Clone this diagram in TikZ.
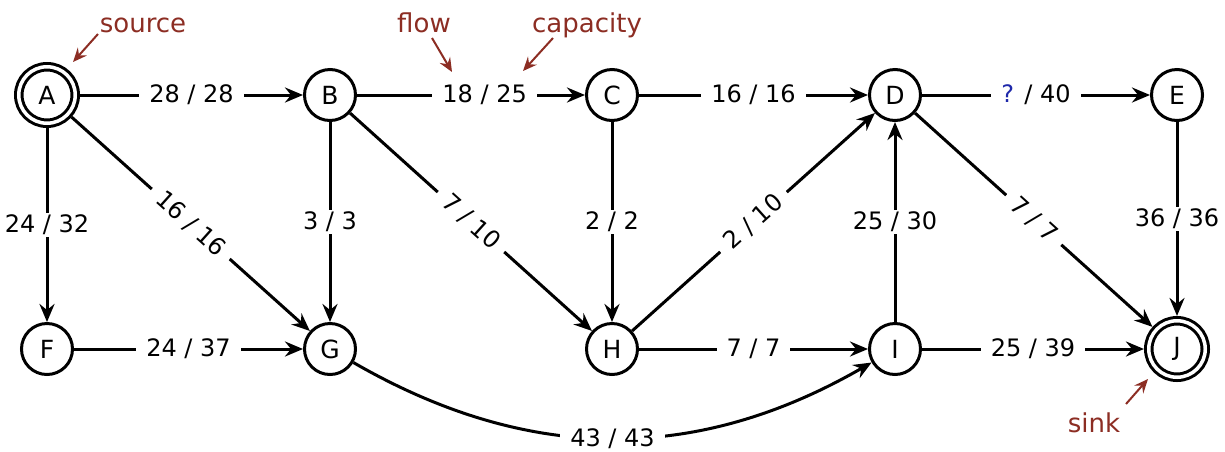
\documentclass[tikz,border=0pt]{standalone}
\usepackage{fontspec}
\setmainfont{DejaVu Sans}
\usetikzlibrary{arrows.meta}
\definecolor{annot}{RGB}{140,45,35}
\definecolor{qblue}{RGB}{30,40,170}
\begin{document}
\begin{tikzpicture}[x=0.5pt,y=0.5pt,
  vtx/.style={circle,draw,line width=1.5pt,minimum size=25.5pt,inner sep=0pt,font=\fontsize{12.5}{14}\selectfont},
  term/.style={vtx,double,double distance=1.75pt,minimum size=28.25pt,outer sep=2.4pt},
  edge/.style={line width=1.5pt,-{Stealth[length=9pt,width=7.5pt,inset=3pt]}},
  lbl/.style={fill=white,inner xsep=5pt,inner ysep=1pt,font=\fontsize{12}{14}\selectfont},
  ann/.style={text=annot,font=\fontsize{13}{15}\selectfont,anchor=base,inner sep=0pt},
  annarr/.style={draw=annot,line width=1pt,-{Stealth[length=7pt,width=6pt,inset=2.5pt]}}]
\useasboundingbox (0,0) rectangle (1225,-451);
% vertices
\node[term] (A) at (47,-95) {A};
\node[vtx] (B) at (330,-95) {B};
\node[vtx] (C) at (612,-95) {C};
\node[vtx] (D) at (895,-95) {D};
\node[vtx] (E) at (1177,-95) {E};
\node[vtx] (F) at (47,-349) {F};
\node[vtx] (G) at (330,-349) {G};
\node[vtx] (H) at (612,-349) {H};
\node[vtx] (I) at (895,-349) {I};
\node[term] (J) at (1177,-349) {J};
% edges
\draw[edge] (A) -- node[lbl]{28 / 28} (B);
\draw[edge] (B) -- node[lbl,pos=0.56]{18 / 25} (C);
\draw[edge] (C) -- node[lbl]{16 / 16} (D);
\draw[edge] (D) -- node[lbl]{\textcolor{qblue}{?} / 40} (E);
\draw[edge] (A) -- node[lbl]{24 / 32} (F);
\draw[edge] (A) -- node[lbl,sloped]{16 / 16} (G);
\draw[edge] (B) -- node[lbl]{3 / 3} (G);
\draw[edge] (B) -- node[lbl,sloped]{7 / 10} (H);
\draw[edge] (C) -- node[lbl]{2 / 2} (H);
\draw[edge] (H) -- node[lbl,sloped]{2 / 10} (D);
\draw[edge] (I) -- node[lbl]{25 / 30} (D);
\draw[edge] (D) -- node[lbl,sloped]{7 / 7} (J);
\draw[edge] (E) -- node[lbl]{36 / 36} (J);
\draw[edge] (F) -- node[lbl]{24 / 37} (G);
\draw[edge] (H) -- node[lbl]{7 / 7} (I);
\draw[edge] (I) -- node[lbl]{25 / 39} (J);
\draw[edge] (G) to[bend right=30] node[lbl]{43 / 43} (I);
% annotations
\node[ann] (src) at (143,-32) {source};
\node[ann] (flw) at (424,-32) {flow};
\node[ann] (cap) at (587,-32) {capacity};
\node[ann] (snk) at (1094,-432) {sink};
\coordinate (srcS) at (98,-34);
\coordinate (srcE) at (73,-62);
\coordinate (flwS) at (432,-38);
\coordinate (flwE) at (452,-72);
\coordinate (capS) at (553,-38);
\coordinate (capE) at (523,-71);
\coordinate (snkS) at (1126,-404);
\coordinate (snkE) at (1148,-379);
\draw[annarr] (srcS) -- (srcE);
\draw[annarr] (flwS) -- (flwE);
\draw[annarr] (capS) -- (capE);
\draw[annarr] (snkS) -- (snkE);
\end{tikzpicture}
\end{document}
